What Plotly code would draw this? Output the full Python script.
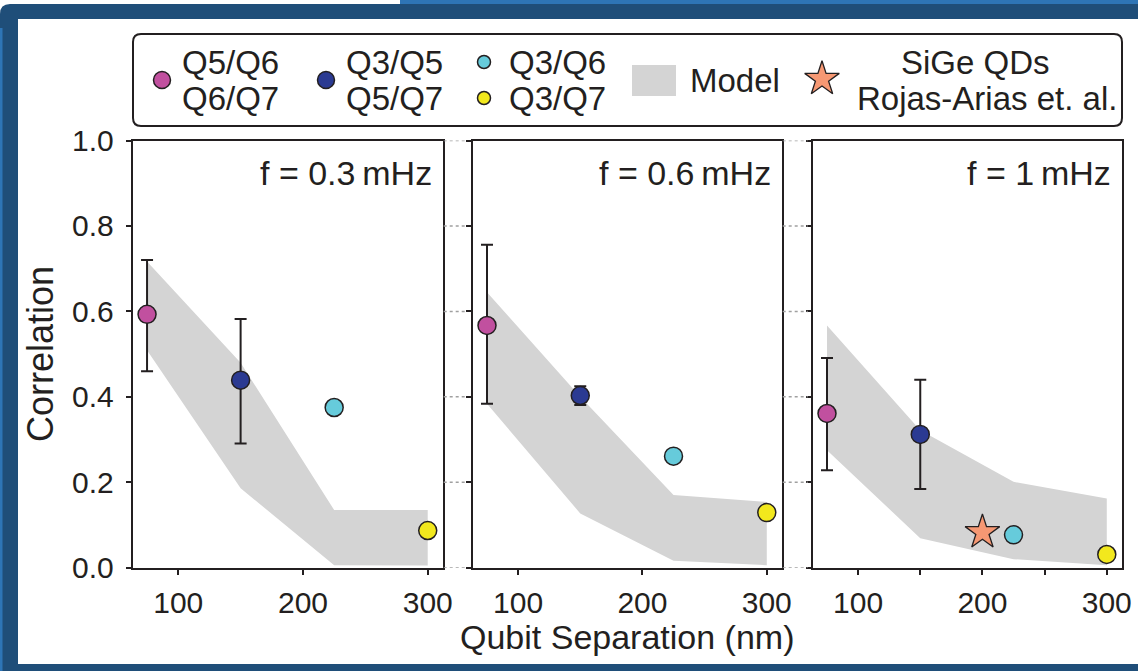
import plotly.graph_objects as go

W, H = 1138, 671

# ---------------- data ----------------
separation = [75, 150, 225, 300]            # nm, qubit separation of the four pair groups
freq_labels = ["f = 0.3\u2009mHz", "f = 0.6\u2009mHz", "f = 1\u2009mHz"]

# Q5/Q6, Q6/Q7 (75 nm)
corr_q56 = [0.593, 0.567, 0.361]
err_q56_plus = [0.127, 0.189, 0.130]
err_q56_minus = [0.133, 0.183, 0.133]
# Q3/Q5, Q5/Q7 (150 nm)
corr_q35 = [0.439, 0.403, 0.312]
err_q35_plus = [0.143, 0.022, 0.128]
err_q35_minus = [0.148, 0.022, 0.128]
# Q3/Q6 (225 nm)
corr_q36 = [0.375, 0.261, 0.077]
# Q3/Q7 (300 nm)
corr_q37 = [0.087, 0.129, 0.031]

# Model band (upper / lower edge at each separation)
model_upper = [
    [0.717, 0.480, 0.135, 0.135],
    [0.645, 0.400, 0.170, 0.154],
    [0.567, 0.322, 0.201, 0.162],
]
model_lower = [
    [0.509, 0.186, 0.006, 0.005],
    [0.384, 0.127, 0.016, 0.006],
    [0.275, 0.069, 0.020, 0.006],
]

# SiGe QDs, Rojas-Arias et al. (only in 1 mHz panel)
sige_sep = [200]
sige_corr = [0.083]

y_ticks = [0.0, 0.2, 0.4, 0.6, 0.8, 1.0]
y_ticktext = ["0.0", "0.2", "0.4", "0.6", "0.8", "1.0"]
x_ticks_main = [100, 200, 300]
x_ticks_last = [100, 150, 200, 250, 300]
x_ticktext_last = ["100", "", "200", "", "300"]

# ---------------- style ----------------
INK = "#231f20"
C_MAG = "#c1509f"
C_BLUE = "#2b3a92"
C_CYAN = "#66cbdb"
C_YEL = "#f2e81d"
C_STAR = "#f69873"
C_BAND = "#d4d4d4"
FRAME = "#1f4e79"
FONT = "Liberation Sans, Arial, Helvetica, sans-serif"
MS = 18

panel_px = [(132.7, 442.7), (472.7, 781.7), (812.7, 1121.7)]
y_top_px, y_bot_px = 140.5, 567.7


def dom_x(a, b):
    return [a / W, b / W]


y_domain = [1 - y_bot_px / H, 1 - y_top_px / H]

fig = go.Figure()

for i in range(3):
    xa = "x" if i == 0 else f"x{i + 1}"
    ya = "y" if i == 0 else f"y{i + 1}"
    # model band
    fig.add_trace(go.Scatter(
        x=separation + separation[::-1],
        y=model_upper[i] + model_lower[i][::-1],
        fill="toself", fillcolor=C_BAND, mode="lines",
        line=dict(width=0, color=C_BAND),
        xaxis=xa, yaxis=ya, showlegend=False, hoverinfo="skip"))
    # Q5/Q6, Q6/Q7
    fig.add_trace(go.Scatter(
        x=[separation[0]], y=[corr_q56[i]], mode="markers",
        marker=dict(size=MS, color=C_MAG, line=dict(color=INK, width=1.5)),
        error_y=dict(type="data", symmetric=False, array=[err_q56_plus[i]],
                     arrayminus=[err_q56_minus[i]], color=INK, thickness=2, width=6),
        xaxis=xa, yaxis=ya, showlegend=False))
    # Q3/Q5, Q5/Q7
    fig.add_trace(go.Scatter(
        x=[separation[1]], y=[corr_q35[i]], mode="markers",
        marker=dict(size=MS, color=C_BLUE, line=dict(color=INK, width=1.5)),
        error_y=dict(type="data", symmetric=False, array=[err_q35_plus[i]],
                     arrayminus=[err_q35_minus[i]], color=INK, thickness=2, width=6),
        xaxis=xa, yaxis=ya, showlegend=False))
    if i == 2:
        fig.add_trace(go.Scatter(
            x=sige_sep, y=sige_corr, mode="markers",
            marker=dict(symbol="star", size=26, color=C_STAR, line=dict(color=INK, width=1.3)),
            xaxis=xa, yaxis=ya, showlegend=False))
    # Q3/Q6
    fig.add_trace(go.Scatter(
        x=[separation[2]], y=[corr_q36[i]], mode="markers",
        marker=dict(size=MS, color=C_CYAN, line=dict(color=INK, width=1.5)),
        xaxis=xa, yaxis=ya, showlegend=False))
    # Q3/Q7
    fig.add_trace(go.Scatter(
        x=[separation[3]], y=[corr_q37[i]], mode="markers",
        marker=dict(size=MS, color=C_YEL, line=dict(color=INK, width=1.5)),
        xaxis=xa, yaxis=ya, showlegend=False))

# ---------------- legend (drawn on a hidden pixel-space overlay axis) ----------------
leg_markers = [
    (162, 80, C_MAG, 17, "circle"),
    (326, 80, C_BLUE, 17, "circle"),
    (484, 62, C_CYAN, 13, "circle"),
    (484, 98, C_YEL, 13, "circle"),
    (822, 79, C_STAR, 26, "star"),
]
for (mx, my, mc, ms, sym) in leg_markers:
    fig.add_trace(go.Scatter(
        x=[mx], y=[my], mode="markers",
        marker=dict(symbol=sym, size=ms, color=mc,
                    line=dict(color=INK, width=1.5 if sym == "circle" else 1.3)),
        xaxis="x4", yaxis="y4", showlegend=False, hoverinfo="skip", cliponaxis=False))

layout_axes = {}
for i, (a, b) in enumerate(panel_px):
    xk = "xaxis" if i == 0 else f"xaxis{i + 1}"
    yk = "yaxis" if i == 0 else f"yaxis{i + 1}"
    ya = "y" if i == 0 else f"y{i + 1}"
    xa = "x" if i == 0 else f"x{i + 1}"
    last = (i == 2)
    layout_axes[xk] = dict(
        domain=dom_x(a, b), anchor=ya, range=[63.5, 312], automargin=False,
        tickvals=x_ticks_last if last else x_ticks_main,
        ticktext=x_ticktext_last if last else [str(v) for v in x_ticks_main],
        showline=True, linewidth=2, linecolor=INK, mirror=True,
        ticks="outside", ticklen=5, tickwidth=2, tickcolor=INK,
        tickfont=dict(family=FONT, size=30, color=INK), ticklabelstandoff=2,
        showgrid=False, zeroline=False, fixedrange=True)
    layout_axes[yk] = dict(
        domain=y_domain, anchor=xa, range=[0, 1], automargin=False,
        tickvals=y_ticks, ticktext=y_ticktext, showticklabels=(i == 0),
        showline=True, linewidth=2, linecolor=INK, mirror=True,
        ticks="outside", ticklen=5, tickwidth=2, tickcolor=INK,
        tickfont=dict(family=FONT, size=30, color=INK), ticklabelstandoff=6,
        showgrid=False, zeroline=False, fixedrange=True)

layout_axes["xaxis4"] = dict(domain=[0, 1], range=[0, W], anchor="y4", visible=False,
                             fixedrange=True, automargin=False)
layout_axes["yaxis4"] = dict(domain=[0, 1], range=[H, 0], anchor="x4", visible=False,
                             fixedrange=True, automargin=False)

shapes = []
# slide frame
shapes.append(dict(type="path", xref="x4", yref="y4",
                   path=f"M 0,{H} L 0,14 Q 0,4 10,4 L {W},4 L {W},19 L 18,19 L 18,664 L {W},664 L {W},{H} Z",
                   fillcolor=FRAME, line=dict(width=0), layer="below"))
shapes.append(dict(type="rect", xref="x4", yref="y4", x0=0, x1=2.5, y0=28, y1=H,
                   fillcolor="#2e75b6", line=dict(width=0), layer="below"))
shapes.append(dict(type="rect", xref="x4", yref="y4", x0=400, x1=W, y0=0, y1=4,
                   fillcolor="#2e75b6", line=dict(width=0), layer="below"))
# legend box
lx0, ly0, lx1, ly1, r = 133, 34, 1122, 126, 8
shapes.append(dict(type="path", xref="x4", yref="y4",
                   path=(f"M {lx0 + r},{ly0} L {lx1 - r},{ly0} Q {lx1},{ly0} {lx1},{ly0 + r} "
                         f"L {lx1},{ly1 - r} Q {lx1},{ly1} {lx1 - r},{ly1} L {lx0 + r},{ly1} "
                         f"Q {lx0},{ly1} {lx0},{ly1 - r} L {lx0},{ly0 + r} Q {lx0},{ly0} {lx0 + r},{ly0} Z"),
                   line=dict(color=INK, width=2), fillcolor="rgba(0,0,0,0)"))
# legend "Model" swatch
shapes.append(dict(type="rect", xref="x4", yref="y4", x0=632, x1=676, y0=65, y1=96,
                   fillcolor=C_BAND, line=dict(width=0)))
# dotted guide lines between panels
for (p_right, p_left) in [(panel_px[0][1], panel_px[1][0]), (panel_px[1][1], panel_px[2][0])]:
    for t in y_ticks:
        shapes.append(dict(type="line", xref="x4", yref="y", x0=p_right + 1, x1=p_left - 5,
                           y0=t, y1=t, line=dict(color="#a0a0a0", width=1.5, dash="dot")))

annotations = []
for i in range(3):
    xa = "x" if i == 0 else f"x{i + 1}"
    ya = "y" if i == 0 else f"y{i + 1}"
    annotations.append(dict(text=freq_labels[i], xref=f"{xa} domain", yref=f"{ya} domain",
                            x=0.972, y=0.925, xanchor="right", yanchor="middle", showarrow=False,
                            font=dict(family=FONT, size=34, color=INK)))

leg_texts = [
    ("Q5/Q6", 180, 62, "left"), ("Q6/Q7", 180, 98, "left"),
    ("Q3/Q5", 344, 62, "left"), ("Q5/Q7", 344, 98, "left"),
    ("Q3/Q6", 507, 62, "left"), ("Q3/Q7", 507, 98, "left"),
    ("Model", 688, 80, "left"),
    ("SiGe QDs", 975, 62, "center"), ("Rojas-Arias et. al.", 987, 98, "center"),
]
for (t, tx, ty, anc) in leg_texts:
    annotations.append(dict(text=t, xref="x4", yref="y4", x=tx, y=ty, xanchor=anc,
                            yanchor="middle", showarrow=False,
                            font=dict(family=FONT, size=33, color=INK)))

# axis titles
annotations.append(dict(text="Qubit Separation (nm)", xref="x4", yref="y4", x=627, y=637,
                        xanchor="center", yanchor="middle", showarrow=False,
                        font=dict(family=FONT, size=34, color=INK)))
annotations.append(dict(text="Correlation", xref="x4", yref="y4", x=40, y=354, textangle=-90,
                        xanchor="center", yanchor="middle", showarrow=False,
                        font=dict(family=FONT, size=36, color=INK)))

fig.update_layout(
    template="none",
    width=W, height=H, margin=dict(l=0, r=0, t=0, b=0, pad=0, autoexpand=False),
    paper_bgcolor="white", plot_bgcolor="rgba(0,0,0,0)",
    showlegend=False, hovermode=False,
    shapes=shapes, annotations=annotations,
    font=dict(family=FONT, color=INK),
    **layout_axes)

fig.write_html("out.html", config={"displayModeBar": False},
               post_script="document.body.style.margin='0px';")
